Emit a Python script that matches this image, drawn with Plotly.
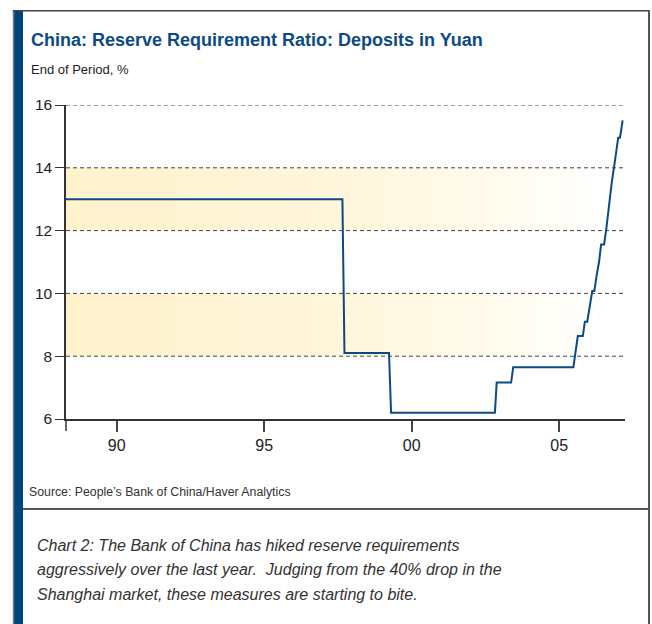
import plotly.graph_objects as go

# ---- data ----
years = [1988.28, 1997.65, 1997.72, 1999.23, 1999.30, 2002.82, 2002.88, 2003.37, 2003.44,
         2005.48, 2005.63, 2005.80, 2005.87, 2005.95, 2006.12, 2006.19, 2006.27, 2006.35,
         2006.42, 2006.52, 2006.59, 2006.65, 2006.72, 2006.79, 2006.86, 2006.93, 2007.00,
         2007.06, 2007.15]
ratio = [13.0, 13.0, 8.1, 8.1, 6.2, 6.2, 7.16, 7.16, 7.65,
         7.65, 8.64, 8.64, 9.10, 9.10, 10.08, 10.08, 10.58, 11.0,
         11.56, 11.56, 12.01, 12.54, 12.97, 13.6, 14.03, 14.5, 14.96,
         14.96, 15.51]
x_ticks = [1990, 1995, 2000, 2005]
x_labels = ["90", "95", "00", "05"]
y_ticks = [6, 8, 10, 12, 14, 16]
bands = [(8, 10), (12, 14)]
x_range = [1988.28, 2007.23]
y_range = [6, 16]

title = "China: Reserve Requirement Ratio: Deposits in Yuan"
subtitle = "End of Period, %"
source = "Source: People\u2019s Bank of China/Haver Analytics"
caption = ["Chart 2: The Bank of China has hiked reserve requirements",
           "aggressively over the last year.  Judging from the 40% drop in the",
           "Shanghai market, these measures are starting to bite."]

FONT = "Liberation Sans, Arial, sans-serif"
BLUE = "#0B4A84"

W, H = 652, 624
L, R, T, B = 66, 27, 105, 205
PW, PH = W - L - R, H - T - B


def px(x):
    return (x - L) / PW


def py(y):
    return (H - B - y) / PH


fig = go.Figure()

for lo, hi in bands:
    fig.add_trace(go.Scatter(
        x=[x_range[0], x_range[1], x_range[1], x_range[0], x_range[0]],
        y=[lo, lo, hi, hi, lo],
        mode="lines", line=dict(width=0), fill="toself",
        fillgradient=dict(type="horizontal",
                          colorscale=[[0, "#FFF2CC"], [0.5, "#FFF6DC"],
                                      [0.8, "#FFFCF0"], [0.97, "#FFFFFF"], [1, "#FFFFFF"]]),
        hoverinfo="skip", showlegend=False))

fig.add_trace(go.Scatter(x=years, y=ratio, mode="lines",
                         line=dict(color=BLUE, width=2), showlegend=False))

shapes = []
# dashed gridlines
for v in y_ticks[1:]:
    shapes.append(dict(type="line", xref="paper", yref="y", x0=0, x1=1, y0=v, y1=v,
                       line=dict(color="#444444", width=1, dash="4px,3px"), layer="above"))
# y-axis extension below
shapes.append(dict(type="line", xref="paper", yref="paper", x0=0, x1=0, y0=py(419), y1=py(431),
                   line=dict(color="#333333", width=1.5)))
# frame
shapes.append(dict(type="rect", xref="paper", yref="paper", x0=px(14), x1=px(23), y0=py(10), y1=py(630),
                   fillcolor="#00457C", line=dict(width=0)))
shapes.append(dict(type="line", xref="paper", yref="paper", x0=px(13.5), x1=px(13.5), y0=py(10), y1=py(630),
                   line=dict(color="#777777", width=1.5)))
shapes.append(dict(type="line", xref="paper", yref="paper", x0=px(13), x1=px(649.5), y0=py(10.8), y1=py(10.8),
                   line=dict(color="#444444", width=1.6)))
shapes.append(dict(type="line", xref="paper", yref="paper", x0=px(649), x1=px(649), y0=py(10), y1=py(630),
                   line=dict(color="#555555", width=2)))
shapes.append(dict(type="line", xref="paper", yref="paper", x0=px(23), x1=px(649), y0=py(509), y1=py(509),
                   line=dict(color="#555555", width=2)))

annotations = [
    dict(text="<b>" + title + "</b>", x=px(29), y=py(39.5), xanchor="left", yanchor="middle",
         font=dict(family=FONT, size=18, color=BLUE)),
    dict(text=subtitle, x=px(29), y=py(70), xanchor="left", yanchor="middle",
         font=dict(family=FONT, size=13, color="#222222")),
    dict(text=source, x=px(27), y=py(491.5), xanchor="left", yanchor="middle",
         font=dict(family=FONT, size=12.3, color="#333333")),
]
for i, line in enumerate(caption):
    annotations.append(dict(text="<i>" + line + "</i>", x=px(35), y=py(545 + 24.5 * i),
                            xanchor="left", yanchor="middle",
                            font=dict(family=FONT, size=16, color="#333333")))
for a in annotations:
    a.update(xref="paper", yref="paper", showarrow=False)

fig.update_layout(
    width=W, height=H, margin=dict(l=L, r=R, t=T, b=B),
    paper_bgcolor="white", plot_bgcolor="white",
    shapes=shapes, annotations=annotations,
    xaxis=dict(range=x_range, tickvals=x_ticks, ticktext=x_labels, ticks="outside",
               ticklen=11, tickcolor="#444444", tickwidth=1.5, showline=True,
               linecolor="#333333", linewidth=1.5, showgrid=False, zeroline=False,
               tickfont=dict(family=FONT, size=16, color="#222222")),
    yaxis=dict(range=y_range, tickvals=y_ticks, ticks="outside", ticklen=9,
               tickcolor="#333333", tickwidth=1.2, showline=True, linecolor="#333333",
               linewidth=1.5, showgrid=False, zeroline=False,
               tickfont=dict(family=FONT, size=15.5, color="#222222")),
)

fig.write_html("out.html")
